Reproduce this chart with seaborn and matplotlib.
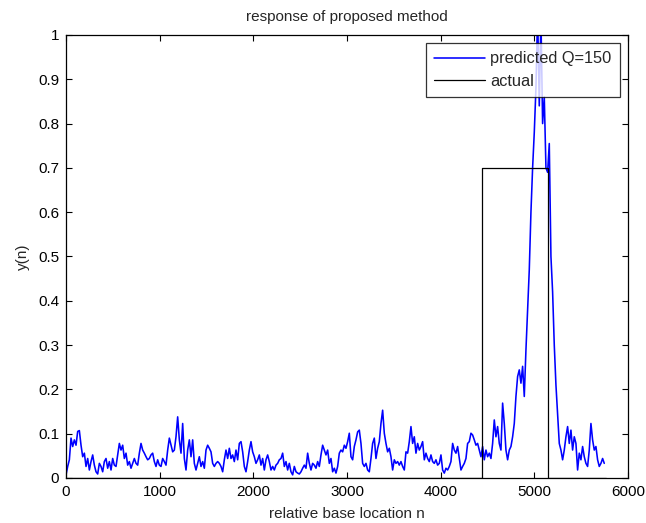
import numpy as np
import pandas as pd
import matplotlib
matplotlib.use("Agg")
import matplotlib.pyplot as plt
import seaborn as sns

# Sampled response y(n), one value every SAMPLE_STEP base positions
SAMPLE_STEP = 17.79

pred_0_1100 = [
    0.007, 0.026, 0.041, 0.090, 0.071, 0.086, 0.074, 0.105, 0.107, 0.074,
    0.048, 0.056, 0.026, 0.044, 0.018, 0.037, 0.052, 0.029, 0.014, 0.009,
    0.033, 0.026, 0.014, 0.037, 0.044, 0.022, 0.037, 0.018, 0.044, 0.029,
    0.026, 0.052, 0.078, 0.063, 0.074, 0.044, 0.056, 0.029, 0.037, 0.022,
    0.033, 0.044, 0.033, 0.029, 0.056, 0.078, 0.063, 0.056, 0.048, 0.041,
    0.044, 0.052, 0.056, 0.037, 0.026, 0.041, 0.029, 0.026, 0.044, 0.037,
    0.029, 0.063,
]
pred_1100_2270 = [
    0.090, 0.074, 0.059, 0.063, 0.093, 0.138, 0.086, 0.056, 0.123, 0.044,
    0.018, 0.063, 0.086, 0.048, 0.086, 0.033, 0.018, 0.033, 0.048, 0.026,
    0.037, 0.022, 0.063, 0.074, 0.067, 0.059, 0.033, 0.026, 0.033, 0.037,
    0.033, 0.026, 0.014, 0.041, 0.063, 0.044, 0.067, 0.044, 0.052, 0.037,
    0.063, 0.041, 0.078, 0.082, 0.059, 0.026, 0.014, 0.037, 0.063, 0.082,
    0.059, 0.048, 0.033, 0.041, 0.052, 0.029, 0.044, 0.018, 0.041, 0.052,
    0.037, 0.018, 0.026, 0.018, 0.029, 0.033,
]
pred_2270_3450 = [
    0.041, 0.044, 0.056, 0.026, 0.037, 0.018, 0.033, 0.014, 0.007, 0.026,
    0.014, 0.011, 0.009, 0.014, 0.022, 0.029, 0.022, 0.056, 0.033, 0.018,
    0.033, 0.029, 0.022, 0.037, 0.026, 0.052, 0.074, 0.063, 0.052, 0.063,
    0.033, 0.044, 0.014, 0.022, 0.011, 0.026, 0.056, 0.063, 0.059, 0.074,
    0.067, 0.082, 0.101, 0.048, 0.041, 0.071, 0.086, 0.104, 0.108, 0.078,
    0.033, 0.026, 0.033, 0.018, 0.014, 0.044, 0.078, 0.090, 0.044, 0.067,
    0.082, 0.123, 0.153, 0.101, 0.078, 0.059,
]
pred_3450_4410 = [
    0.067, 0.048, 0.018, 0.041, 0.033, 0.037, 0.029, 0.037, 0.026, 0.018,
    0.059, 0.056, 0.082, 0.116, 0.078, 0.093, 0.056, 0.078, 0.063, 0.071,
    0.082, 0.041, 0.056, 0.044, 0.037, 0.052, 0.037, 0.033, 0.041, 0.029,
    0.033, 0.052, 0.018, 0.011, 0.022, 0.018, 0.026, 0.037, 0.078, 0.063,
    0.056, 0.071, 0.044, 0.018, 0.026, 0.033, 0.044, 0.078, 0.082, 0.101,
    0.097, 0.086, 0.074, 0.078,
]
pred_4410_end = [
    0.063, 0.048, 0.071, 0.041, 0.063, 0.048, 0.056, 0.044, 0.078, 0.131,
    0.093, 0.116, 0.078, 0.063, 0.169, 0.123, 0.063, 0.041, 0.063, 0.071,
    0.093, 0.123, 0.184, 0.229, 0.244, 0.214, 0.252, 0.184, 0.289, 0.379,
    0.470, 0.600, 0.700, 0.780, 0.880, 1.050, 0.840, 1.040, 0.800, 0.860,
    0.700, 0.690, 0.755, 0.500, 0.420, 0.300, 0.210, 0.146, 0.078, 0.063,
    0.041, 0.063, 0.093, 0.116, 0.078, 0.108, 0.063, 0.093, 0.078, 0.018,
    0.056, 0.041, 0.071, 0.048, 0.033, 0.026, 0.063, 0.123, 0.086, 0.063,
    0.071, 0.041, 0.026, 0.033, 0.044, 0.033,
]

# Target region (actual): rectangular pulse
actual_n = [0, 4445, 4445, 5150, 5150, 5765]
actual_y = [0.0, 0.0, 0.7, 0.7, 0.0, 0.0]

x_ticks = [0, 1000, 2000, 3000, 4000, 5000, 6000]
y_ticks = [0, 0.1, 0.2, 0.3, 0.4, 0.5, 0.6, 0.7, 0.8, 0.9, 1]
y_tick_labels = ["0", "0.1", "0.2", "0.3", "0.4", "0.5", "0.6", "0.7", "0.8", "0.9", "1"]

pred_y = np.array(pred_0_1100 + pred_1100_2270 + pred_2270_3450
                  + pred_3450_4410 + pred_4410_end)
pred = pd.DataFrame({"n": np.arange(len(pred_y)) * SAMPLE_STEP, "y": pred_y})
actual = pd.DataFrame({"n": actual_n, "y": actual_y})

sns.set_theme(style="white")
plt.rcParams["font.family"] = ["Liberation Sans", "DejaVu Sans"]
FS = 11

fig = plt.figure(figsize=(6.46, 5.23), dpi=100)
ax = fig.add_axes([0.1022, 0.0861, 0.870, 0.8470])

sns.lineplot(data=pred, x="n", y="y", ax=ax, color="#0000ff", lw=1.15,
             estimator=None, sort=False, label="predicted Q=150")
sns.lineplot(data=actual, x="n", y="y", ax=ax, color="black", lw=0.9,
             estimator=None, sort=False, label="actual")

ax.set_xlim(0, 6000)
ax.set_ylim(0, 1)
ax.set_xticks(x_ticks)
ax.set_xticklabels([str(t) for t in x_ticks], fontsize=FS)
ax.set_yticks(y_ticks)
ax.set_yticklabels(y_tick_labels, fontsize=FS)
ax.tick_params(direction="in", length=4.5, width=0.8, top=True, right=True,
               bottom=True, left=True, colors="black", pad=5)
for sp in ax.spines.values():
    sp.set_visible(True)
    sp.set_color("black")
    sp.set_linewidth(0.9)

ax.set_title("response of proposed method", fontsize=FS, pad=10)
ax.set_xlabel("relative base location n", fontsize=FS, labelpad=6)
ax.set_ylabel("y(n)", fontsize=FS, labelpad=6)

leg = ax.legend(loc="upper right", fontsize=11.8, frameon=True, fancybox=False,
                handlelength=3.1, borderaxespad=0.5, edgecolor="black",
                borderpad=0.5, labelspacing=0.45, handletextpad=0.35)
leg.get_frame().set_linewidth(0.9)

fig.savefig("out.png", dpi=100, facecolor="white")
